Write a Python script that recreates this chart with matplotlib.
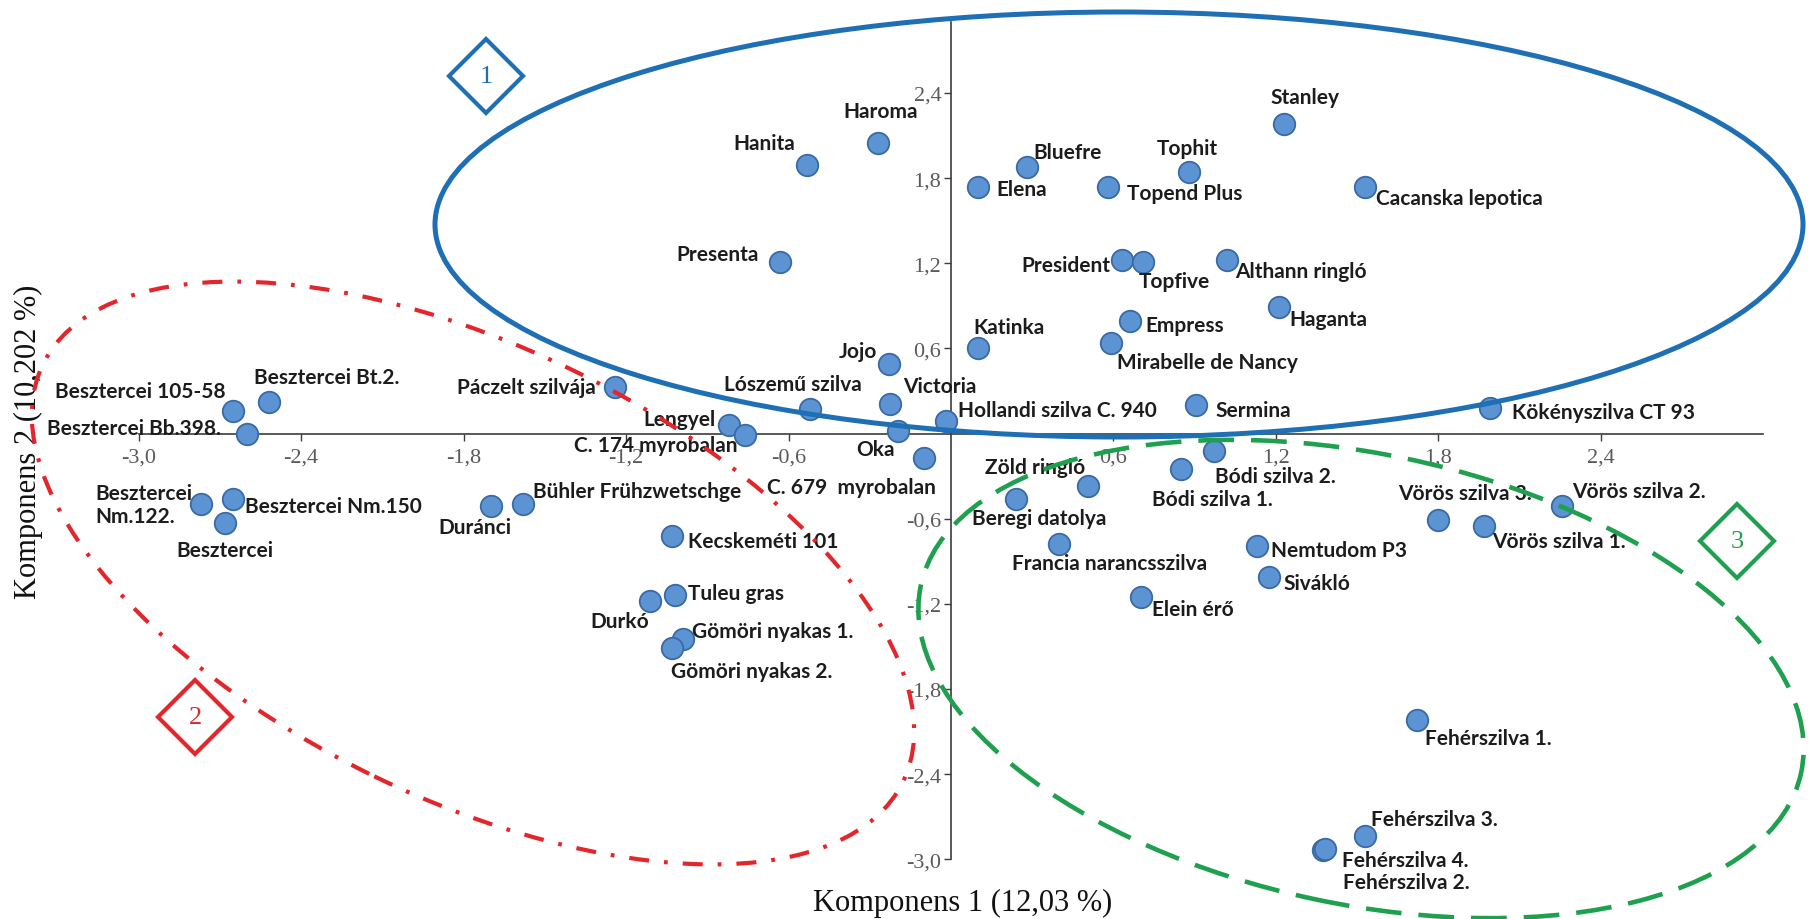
import matplotlib
matplotlib.use("Agg")
import matplotlib.pyplot as plt
from matplotlib.patches import Ellipse, Polygon
from matplotlib.transforms import IdentityTransform
from matplotlib.ticker import FixedLocator, FuncFormatter

# ---- PCA scores of the plum varieties -------------------------------------
varieties = [
    "Besztercei 105-58", "Besztercei Bt.2.", "Besztercei Bb.398.",
    "Besztercei\nNm.122.", "Besztercei Nm.150", "Besztercei", "Duránci",
    "Bühler Frühzwetschge", "Páczelt szilvája", "Lengyel", "C. 174 myrobalan",
    "Lószemű szilva", "Jojo", "Victoria", "Oka", "C. 679  myrobalan",
    "Hollandi szilva C. 940", "Kecskeméti 101", "Tuleu gras", "Durkó",
    "Gömöri nyakas 1.", "Gömöri nyakas 2.", "Hanita", "Haroma", "Presenta",
    "Elena", "Bluefre", "Topend Plus", "Tophit", "Stanley",
    "Cacanska lepotica", "President", "Topfive", "Althann ringló", "Haganta",
    "Empress", "Mirabelle de Nancy", "Katinka", "Sermina",
    "Kökényszilva CT 93", "Zöld ringló", "Beregi datolya", "Bódi szilva 1.",
    "Bódi szilva 2.", "Francia narancsszilva", "Elein érő", "Nemtudom P3",
    "Sivákló", "Vörös szilva 1.", "Vörös szilva 2.", "Vörös szilva 3.",
    "Fehérszilva 1.", "Fehérszilva 2.", "Fehérszilva 3.", "Fehérszilva 4.",
]
comp1 = [
    -2.65, -2.52, -2.60,
    -2.77, -2.65, -2.68, -1.70,
    -1.58, -1.24, -0.82, -0.76,
    -0.52, -0.23, -0.225, -0.195, -0.10,
    -0.02, -1.03, -1.02, -1.11,
    -0.99, -1.03, -0.53, -0.27, -0.63,
    0.10, 0.28, 0.58, 0.88, 1.23,
    1.53, 0.63, 0.71, 1.02, 1.21,
    0.66, 0.59, 0.10, 0.905,
    1.99, 0.505, 0.24, 0.85,
    0.97, 0.40, 0.70, 1.13,
    1.175, 1.97, 2.255, 1.80,
    1.72, 1.375, 1.53, 1.38,
]
comp2 = [
    0.16, 0.22, 0.00,
    -0.50, -0.46, -0.63, -0.51,
    -0.50, 0.33, 0.06, -0.01,
    0.17, 0.49, 0.21, 0.02, -0.175,
    0.09, -0.72, -1.14, -1.18,
    -1.45, -1.51, 1.89, 2.05, 1.21,
    1.74, 1.88, 1.74, 1.84, 2.18,
    1.74, 1.22, 1.21, 1.22, 0.89,
    0.79, 0.64, 0.60, 0.20,
    0.18, -0.37, -0.46, -0.25,
    -0.12, -0.78, -1.15, -0.79,
    -1.01, -0.65, -0.51, -0.61,
    -2.02, -2.935, -2.84, -2.93,
]
tick_values = [-3.0, -2.4, -1.8, -1.2, -0.6, 0.6, 1.2, 1.8, 2.4]
x_title = "Komponens 1 (12,03 %)"
y_title = "Komponens 2 (10,202 %)"
group_numbers = ["1", "2", "3"]

# ---- label placement: (dx, dy) in pixels from the point, alignment ---------
label_offsets = [
    (-8, 20, "right"), (-15, 25, "left"), (-26, 6, "right"),
    (-9, 0, "right"), (12, -7, "left"), (0, -27, "center"), (-16, -21, "center"),
    (10, 13, "left"), (-19, 0, "right"), (-13, 6, "right"), (-8, -10, "right"),
    (-17, 25, "center"), (-12, 13, "right"), (13, 18, "left"), (-3, -18, "right"),
    (12, -29, "right"),
    (12, 11, "left"), (16, -5, "left"), (13, 2, "left"), (-1, -20, "right"),
    (9, 8, "left"), (-1, -23, "left"), (-12, 22, "right"), (3, 32, "center"),
    (-22, 8, "right"),
    (18, -2, "left"), (7, 15, "left"), (19, -6, "left"), (-2, 24, "center"),
    (21, 27, "center"),
    (11, -11, "left"), (-11, -5, "right"), (-5, -19, "left"), (8, -11, "left"),
    (11, -12, "left"),
    (16, -4, "left"), (6, -19, "left"), (-5, 21, "left"), (19, -5, "left"),
    (22, -4, "left"), (-3, 19, "right"), (23, -19, "center"), (31, -30, "center"),
    (1, -25, "left"), (50, -19, "center"), (11, -12, "left"), (14, -4, "left"),
    (14, -6, "left"), (8, -15, "left"), (10, 15, "left"), (27, 27, "center"),
    (8, -18, "left"), (20, -32, "left"), (6, 17, "left"), (17, -11, "left"),
]

plt.rcParams["axes.unicode_minus"] = False

W, H = 1813, 920
fig = plt.figure(figsize=(W / 100, H / 100), dpi=100)
fig.patch.set_facecolor("white")

# axes box: x from -3 to 3, y from -3 to 2.9, crossing at the origin
ax_left, ax_right, ax_top, ax_bottom = 138.6, 1763.4, 23.0, 860.2
ax = fig.add_axes([ax_left / W, 1 - ax_bottom / H,
                   (ax_right - ax_left) / W, (ax_bottom - ax_top) / H])
ax.set_xlim(-3.0, 3.0)
ax.set_ylim(-3.0, 2.9)
ax.set_facecolor("none")

for side in ("top", "right"):
    ax.spines[side].set_visible(False)
for side in ("left", "bottom"):
    ax.spines[side].set_position(("data", 0))
    ax.spines[side].set_color("#3c3c3c")
    ax.spines[side].set_linewidth(1.2)

fmt = FuncFormatter(lambda v, _: f"{v:.1f}".replace(".", ","))
ax.xaxis.set_major_locator(FixedLocator(tick_values))
ax.yaxis.set_major_locator(FixedLocator(tick_values))
ax.xaxis.set_major_formatter(fmt)
ax.yaxis.set_major_formatter(fmt)
ax.tick_params(axis="both", direction="out", length=5, width=1.0,
               color="#3c3c3c", labelcolor="#5a5a5a", labelsize=16)
ax.tick_params(axis="x", pad=5)
ax.tick_params(axis="y", pad=2)
for lab in ax.get_xticklabels() + ax.get_yticklabels():
    lab.set_fontfamily("Liberation Serif")

# variety points and their names
ax.scatter(comp1, comp2, s=240, facecolor="#5B93D3", edgecolor="#3A6AA6",
           linewidth=1.3, zorder=3, clip_on=False)
for name, x, y, (dx, dy, ha) in zip(varieties, comp1, comp2, label_offsets):
    ax.annotate(name, (x, y), xytext=(dx, dy), textcoords="offset pixels",
                ha=ha, va="center", multialignment="left",
                fontfamily="Lato", fontweight="bold", fontsize=15,
                color="#1c1c1c", zorder=4, annotation_clip=False)

# axis titles
fig.text(963 / W, 1 - 903 / H, x_title, ha="center", va="center",
         fontfamily="Liberation Serif", fontsize=22, color="#111111")
fig.text(28 / W, 1 - 442 / H, y_title, ha="center", va="center",
         rotation=90, fontfamily="Liberation Serif", fontsize=22,
         color="#111111")

# ---- cluster outlines (pixel geometry, origin at the top-left) ------------
ident = IdentityTransform()


def to_display(x, y):
    return (x, H - y)


blue, red, green = "#1F6FB4", "#E3262B", "#1FA04E"

fig.add_artist(Ellipse(to_display(1119, 225.5), 1368, 425, angle=0,
                       fill=False, edgecolor=blue, linewidth=3.6,
                       transform=ident, zorder=5))
fig.add_artist(Ellipse(to_display(473, 574), 956, 452, angle=-25.9,
                       fill=False, edgecolor=red, linewidth=3.0,
                       linestyle=(0, (4.8, 3.6, 0.9, 3.6)),
                       transform=ident, zorder=5))
fig.add_artist(Ellipse(to_display(1361, 680), 900, 450, angle=-12,
                       fill=False, edgecolor=green, linewidth=3.3,
                       linestyle=(0, (7.8, 3.7)),
                       transform=ident, zorder=5))

# numbered diamond tags
for (cx, cy), color, num in zip([(486, 77), (195, 718), (1737, 542)],
                                [blue, red, green], group_numbers):
    r = 37
    pts = [to_display(cx, cy - r), to_display(cx + r, cy),
           to_display(cx, cy + r), to_display(cx - r, cy)]
    fig.add_artist(Polygon(pts, closed=True, fill=False, edgecolor=color,
                           linewidth=3.0, joinstyle="miter",
                           transform=ident, zorder=5))
    fig.text(cx / W, 1 - cy / H, num, ha="center", va="center",
             fontfamily="Liberation Serif", fontsize=19, color=color)

fig.savefig("out.png", dpi=100, facecolor="white")
